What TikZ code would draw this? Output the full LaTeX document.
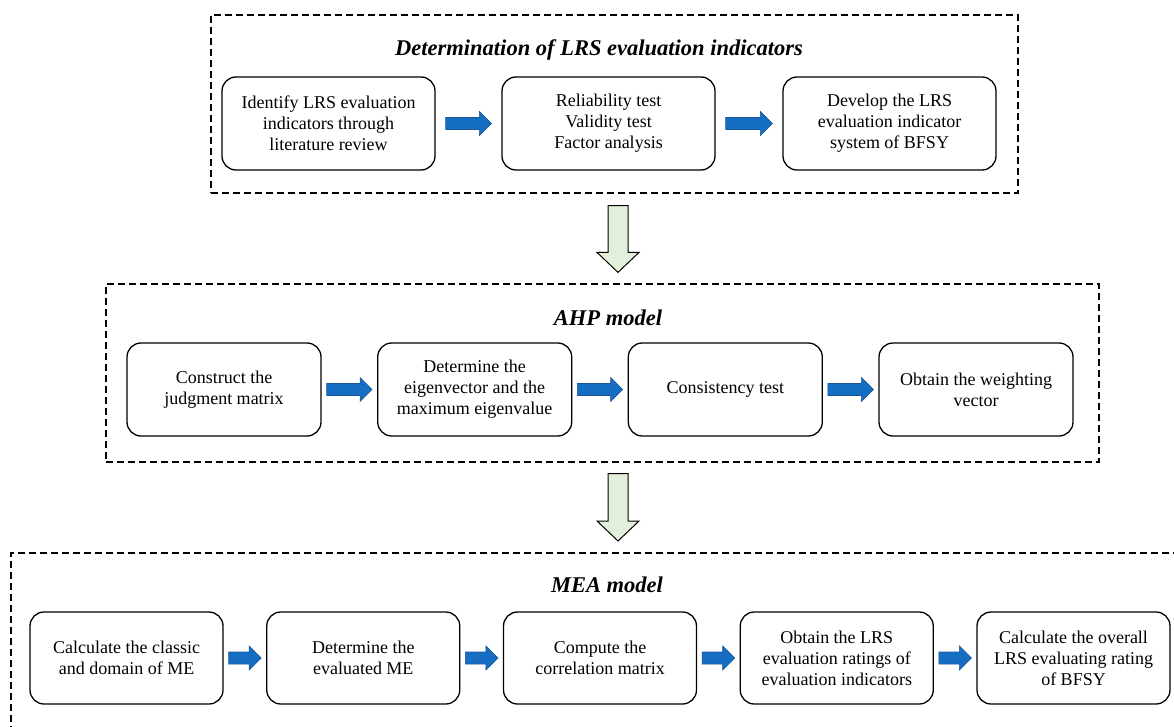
\documentclass[tikz,border=0pt]{standalone}
\usepackage{fontspec}
\setmainfont{Liberation Serif}
\usetikzlibrary{calc}
\definecolor{arrowblue}{RGB}{22,110,195}
\definecolor{arrowedge}{RGB}{25,85,155}
\definecolor{lightgreen}{RGB}{226,239,218}
\tikzset{
  container/.style={draw=black, line width=1.2pt, dash pattern=on 7pt off 4pt, inner sep=0pt},
  procbox/.style={draw=black, line width=1.3pt, rounded corners=14pt, align=center, inner sep=0pt, font=\fontsize{18}{21}\selectfont},
  toprow/.style={procbox, minimum width=213pt, minimum height=93pt},
  midrow/.style={procbox, minimum width=194pt, minimum height=93pt},
  botrow/.style={procbox, minimum width=193pt, minimum height=92pt},
  bluearrow/.style={fill=arrowblue, draw=arrowedge, line width=0.6pt},
  greenarrow/.style={fill=lightgreen, draw=black, line width=1pt},
  titletext/.style={font=\fontsize{22.5}{27}\selectfont\bfseries\itshape, inner sep=0pt}
}
% horizontal block arrow from node #1 to node #2 with end gap #3
\newcommand\blockarrowH[3]{%
  \draw[bluearrow] ($(#1.east)+(#3,-6)$) -- ($(#2.west)+(-#3-12,-6)$) -- ($(#2.west)+(-#3-12,-12)$)
    -- ($(#2.west)+(-#3,0)$) -- ($(#2.west)+(-#3-12,12)$) -- ($(#2.west)+(-#3-12,6)$)
    -- ($(#1.east)+(#3,6)$) -- cycle;}
% vertical block arrow from coordinate #1 (top) to coordinate #2 (tip)
\newcommand\blockarrowV[2]{%
  \draw[greenarrow] ($(#1)+(-10,0)$) -- ($(#2)+(-10,-20)$) -- ($(#2)+(-21,-20)$) -- (#2)
    -- ($(#2)+(21,-20)$) -- ($(#2)+(10,-20)$) -- ($(#1)+(10,0)$) -- cycle;}
\begin{document}
\begin{tikzpicture}[x=1pt,y=-1pt]
\path[use as bounding box] (0,0) rectangle (1174,727);
% containers
\node[container, minimum width=807pt, minimum height=178pt] (c1) at (614.5,104) {};
\node[container, minimum width=993pt, minimum height=178pt] (c2) at (602.5,373) {};
\coordinate (c3) at (11,553);
\begin{scope}
\clip (0,0) rectangle (1174,727);
\draw[container] (1180,553) -- (c3) -- (11,740);
\end{scope}
% titles
\node[titletext] (h1) at (599,50) {Determination of LRS evaluation indicators};
\node[titletext] (h2) at (608,318) {AHP model};
\node[titletext] (h3) at (607,585) {MEA model};
% top row
\node[toprow] (t1) at (328.5,123.5) {Identify LRS evaluation\\indicators through\\literature review};
\node[toprow] (t2) at (608.5,123.5) {Reliability test\\Validity test\\Factor analysis};
\node[toprow] (t3) at (889.5,123.5) {Develop the LRS\\evaluation indicator\\system of BFSY};
% middle row
\node[midrow] (m1) at (224,389.5) {Construct the\\judgment matrix};
\node[midrow] (m2) at (474.7,389.5) {Determine the\\eigenvector and the\\maximum eigenvalue};
\node[midrow] (m3) at (725.3,389.5) {Consistency test};
\node[midrow] (m4) at (976,389.5) {Obtain the weighting\\vector};
% bottom row
\node[botrow] (b1) at (126.5,658) {Calculate the classic\\and domain of ME};
\node[botrow] (b2) at (363.25,658) {Determine the\\evaluated ME};
\node[botrow] (b3) at (600,658) {Compute the\\correlation matrix};
\node[botrow] (b4) at (836.75,658) {Obtain the LRS\\evaluation ratings of\\evaluation indicators};
\node[botrow] (b5) at (1073.5,658) {Calculate the overall\\LRS evaluating rating\\of BFSY};
% blue arrows
\blockarrowH{t1}{t2}{10}
\blockarrowH{t2}{t3}{10}
\blockarrowH{m1}{m2}{5}
\blockarrowH{m2}{m3}{5}
\blockarrowH{m3}{m4}{5}
\blockarrowH{b1}{b2}{5}
\blockarrowH{b2}{b3}{5}
\blockarrowH{b3}{b4}{5}
\blockarrowH{b4}{b5}{5}
% green arrows between stages
\coordinate (gx) at (618,0);
\coordinate (g1top) at ($(gx |- c1.south)+(0,12)$);
\coordinate (g1tip) at ($(gx |- c2.north)+(0,-11)$);
\coordinate (g2top) at ($(gx |- c2.south)+(0,11)$);
\coordinate (g2tip) at ($(gx |- c3)+(0,-12)$);
\blockarrowV{g1top}{g1tip}
\blockarrowV{g2top}{g2tip}
\end{tikzpicture}
\end{document}
